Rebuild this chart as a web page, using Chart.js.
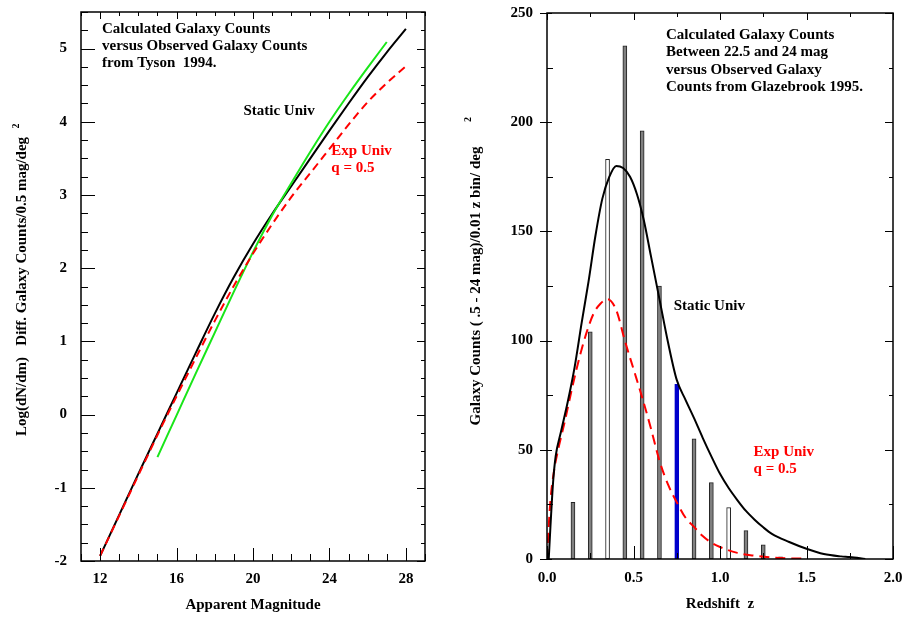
<!DOCTYPE html>
<html>
<head>
<meta charset="utf-8">
<script src="https://cdn.jsdelivr.net/npm/chart.js@4.4.1/dist/chart.umd.min.js"></script>
<style>
  html, body { margin: 0; padding: 0; background: #fff; }
  #wrap { position: relative; width: 904px; height: 618px; overflow: hidden; background: #fff; }
  .panel { position: absolute; top: 0; width: 452px; height: 618px; }
  #left { left: 0; }
  #right { left: 452px; }
</style>
</head>
<body>
<div id="wrap">
  <div class="panel" id="left"><canvas id="chart-mag"></canvas></div>
  <div class="panel" id="right"><canvas id="chart-z"></canvas></div>
</div>
<script>
// left panel - log differential counts vs apparent magnitude
const MAGS = [12, 13, 14, 15, 16, 17, 18, 19, 20, 21, 22, 23, 24, 25, 26, 27, 28];
const STATIC_LOG = [-1.93, -1.37, -0.81, -0.26, 0.29, 0.84, 1.38, 1.88, 2.33, 2.74, 3.12, 3.5, 3.88, 4.25, 4.61, 4.95, 5.27];
const EXP_LOG = [-1.93, -1.38, -0.83, -0.28, 0.25, 0.77, 1.28, 1.76, 2.2, 2.6, 2.97, 3.3, 3.63, 3.96, 4.27, 4.53, 4.76];
const TYSON_MAGS = [15, 16, 17, 18, 19, 20, 21, 22, 23, 24, 25, 26, 27];
const TYSON_LOG = [-0.58, -0.01, 0.56, 1.12, 1.68, 2.22, 2.72, 3.16, 3.59, 4.0, 4.38, 4.74, 5.09];
const MAG_TICKS = [12, 16, 20, 24, 28];
const LOG_TICKS = [-2, -1, 0, 1, 2, 3, 4, 5];

// right panel - counts per 0.01 z bin vs redshift
const BIN_Z = [0.15, 0.25, 0.35, 0.45, 0.55, 0.65, 0.75, 0.85, 0.95, 1.05, 1.15, 1.25, 1.35];
const BIN_COUNTS = [26, 104, 183, 235, 196, 125, 80, 55, 35, 23.5, 13, 6.5, 1];
const STATIC_Z = [0.01, 0.02, 0.035, 0.05, 0.08, 0.12, 0.16, 0.2, 0.24, 0.28, 0.32, 0.36, 0.4, 0.44, 0.48, 0.52, 0.56, 0.6, 0.65, 0.7, 0.75, 0.8, 0.85, 0.9, 0.95, 1.0, 1.05, 1.1, 1.15, 1.2, 1.25, 1.3, 1.4, 1.5, 1.6, 1.7, 1.75, 1.84];
const STATIC_N = [0, 15, 35, 47, 58, 72, 88, 108, 127, 148, 165, 175, 180, 179, 175, 167, 155, 139, 119, 99, 82, 73, 64.5, 55.5, 47, 39, 32.5, 27, 22, 18, 14.5, 11.5, 7.8, 4.7, 2.3, 1.2, 0.9, 0];
const EXP_Z = [0, 0.01, 0.02, 0.04, 0.067, 0.1, 0.15, 0.19, 0.23, 0.27, 0.31, 0.35, 0.4, 0.45, 0.5, 0.55, 0.6, 0.65, 0.7, 0.75, 0.8, 0.85, 0.9, 0.95, 1.0, 1.1, 1.2, 1.3, 1.4, 1.5];
const EXP_N = [0, 15, 27, 40, 51, 62, 80, 93, 104, 112.5, 117, 119, 114, 100, 87, 74, 60, 45, 34, 26, 19, 14.7, 10.5, 7.5, 5.5, 2.8, 1.5, 0.7, 0.3, 0.2];
const Z_TICKS = [0, 0.5, 1, 1.5, 2];
const N_TICKS = [0, 50, 100, 150, 200, 250];

const WHITE_BINS = [0.35, 1.05];
const BLUE_BIN = 0.75;

const FONT = '"Liberation Serif", "Times New Roman", serif';
const FONT_SIZE = 15;
Chart.defaults.font.family = FONT;
Chart.defaults.font.weight = 'bold';
Chart.defaults.font.size = FONT_SIZE;
Chart.defaults.color = '#000';

const pts = (xs, ys) => xs.map((x, i) => ({ x, y: ys[i] }));

// frame round the plot area plus inward ticks on all four sides
const frameTicks = {
  id: 'frameTicks',
  afterDatasetsDraw(chart, args, o) {
    const { ctx, chartArea: a, scales: { x, y } } = chart;
    const isMajor = (v, m) => Math.abs(v / m - Math.round(v / m)) < 1e-6;
    const steps = (s, step) => {
      const out = [];
      for (let i = Math.ceil(s.min / step - 1e-9); i * step <= s.max + 1e-9; i++) out.push(i * step);
      return out;
    };
    ctx.save();
    ctx.strokeStyle = '#000';
    ctx.lineWidth = 1;
    ctx.beginPath();
    steps(x, o.xStep).forEach(v => {
      const px = Math.round(x.getPixelForValue(v)) + 0.5;
      const k = isMajor(v, o.xMajor) ? 0 : 1;
      ctx.moveTo(px, a.bottom); ctx.lineTo(px, a.bottom - o.bottom[k]);
      ctx.moveTo(px, a.top); ctx.lineTo(px, a.top + o.top[k]);
    });
    steps(y, o.yStep).forEach(v => {
      const py = Math.round(y.getPixelForValue(v)) + 0.5;
      const k = isMajor(v, o.yMajor) ? 0 : 1;
      ctx.moveTo(a.left - (o.leftOut ? o.leftOut[k] : 0), py); ctx.lineTo(a.left + o.left[k], py);
      ctx.moveTo(a.right, py); ctx.lineTo(a.right - o.right[k], py);
    });
    ctx.stroke();
    ctx.lineWidth = 1.5;
    ctx.strokeRect(a.left, a.top, a.right - a.left, a.bottom - a.top);
    ctx.restore();
  }
};

// text notes placed in data coordinates
const notes = {
  id: 'notes',
  afterDatasetsDraw(chart, args, o) {
    const { ctx, scales: { x, y } } = chart;
    ctx.save();
    ctx.font = `bold ${FONT_SIZE}px ${FONT}`;
    ctx.textBaseline = 'middle';
    o.items.forEach(n => {
      ctx.fillStyle = n.color || '#000';
      n.lines.forEach((t, i) => ctx.fillText(t, x.getPixelForValue(n.x), y.getPixelForValue(n.y) + i * o.lineGap));
    });
    ctx.restore();
  }
};

// the little "2" (deg^2) after the rotated y title
const superscript = {
  id: 'superscript',
  afterDraw(chart, args, o) {
    const { ctx, scales: { y } } = chart;
    const t = y.options.title;
    ctx.save();
    ctx.font = `bold ${FONT_SIZE}px ${FONT}`;
    const w = ctx.measureText(t.text).width;
    const cx = y.left + FONT_SIZE * 1.2 / 2 + t.padding.top;
    const end = (y.top + y.bottom) / 2 - w / 2;
    ctx.translate(cx + o.dx, end + o.dy);
    ctx.rotate(-Math.PI / 2);
    ctx.font = `bold 10px ${FONT}`;
    ctx.textAlign = 'center';
    ctx.textBaseline = 'middle';
    ctx.fillText('2', 0, 0);
    ctx.restore();
  }
};

// fixed axis boxes, no extra label padding pushed into the plot area
const fixX = h => s => { s.height = h; s.paddingLeft = 0; s.paddingRight = 0; };
const fixY = w => s => { s.width = w; s.paddingTop = 0; s.paddingBottom = 0; };

const axisBase = {
  grid: { display: false, drawTicks: false },
  border: { display: false }
};

new Chart(document.getElementById('chart-mag'), {
  type: 'line',
  data: {
    datasets: [
      { label: 'Exp Univ', data: pts(MAGS, EXP_LOG), borderColor: '#ff0000', borderDash: [8, 5], borderWidth: 2, pointRadius: 0, cubicInterpolationMode: 'monotone' },
      { label: 'Tyson 1994', data: pts(TYSON_MAGS, TYSON_LOG), borderColor: '#19e619', borderWidth: 2, pointRadius: 0, cubicInterpolationMode: 'monotone' },
      { label: 'Static Univ', data: pts(MAGS, STATIC_LOG), borderColor: '#000', borderWidth: 2, pointRadius: 0, cubicInterpolationMode: 'monotone' }
    ]
  },
  options: {
    responsive: true, maintainAspectRatio: false, animation: false,
    layout: { padding: { top: 12, right: 27, left: 0, bottom: 0 } },
    plugins: {
      legend: { display: false },
      tooltip: { enabled: false },
      superscript: { dx: -6, dy: -11 },
      frameTicks: { xStep: 1, xMajor: 4, yStep: 0.25, yMajor: 1, bottom: [13, 7], top: [7, 4], left: [14, 7], right: [8, 4] },
      notes: {
        lineGap: 17,
        items: [
          { x: 12.1, y: 5.26, lines: ['Calculated Galaxy Counts', 'versus Observed Galaxy Counts', 'from Tyson  1994.'] },
          { x: 19.5, y: 4.14, lines: ['Static Univ'] },
          { x: 24.1, y: 3.6, color: '#ff0000', lines: ['Exp Univ', 'q = 0.5'] }
        ]
      }
    },
    scales: {
      x: {
        ...axisBase, type: 'linear', min: 11, max: 29,
        afterFit: fixX(57),
        afterBuildTicks: s => { s.ticks = MAG_TICKS.map(value => ({ value })); },
        ticks: { padding: 9, maxRotation: 0 },
        title: { display: true, text: 'Apparent Magnitude', padding: { top: 0, bottom: 4 } }
      },
      y: {
        ...axisBase, type: 'linear', min: -2, max: 5.5,
        afterFit: fixY(81),
        afterBuildTicks: s => { s.ticks = LOG_TICKS.map(value => ({ value })); },
        ticks: { padding: 14 },
        title: { display: true, text: 'Log(dN/dm)   Diff. Galaxy Counts/0.5 mag/deg', padding: { top: 13, bottom: 0 } }
      }
    }
  },
  plugins: [frameTicks, notes, superscript]
});

new Chart(document.getElementById('chart-z'), {
  type: 'bar',
  data: {
    datasets: [
      {
        type: 'line', label: 'Static Univ', data: pts(STATIC_Z, STATIC_N), order: 1,
        borderColor: '#000', borderWidth: 2, pointRadius: 0, cubicInterpolationMode: 'monotone'
      },
      {
        type: 'line', label: 'Exp Univ', data: pts(EXP_Z, EXP_N), order: 1,
        borderColor: '#ff0000', borderDash: [10, 6], borderWidth: 2, pointRadius: 0, cubicInterpolationMode: 'monotone'
      },
      {
        label: 'Glazebrook 1995', data: pts(BIN_Z, BIN_COUNTS), order: 2,
        barThickness: 4, borderWidth: 1, borderSkipped: false,
        backgroundColor: BIN_Z.map(z => z === BLUE_BIN ? '#0000cc' : WHITE_BINS.includes(z) ? '#ffffff' : '#808080'),
        borderColor: BIN_Z.map(z => z === BLUE_BIN ? '#0000cc' : '#222')
      }
    ]
  },
  options: {
    responsive: true, maintainAspectRatio: false, animation: false,
    layout: { padding: { top: 13, right: 11, left: 0, bottom: 0 } },
    plugins: {
      legend: { display: false },
      tooltip: { enabled: false },
      superscript: { dx: -8, dy: -27 },
      frameTicks: { xStep: 0.25, xMajor: 0.5, yStep: 25, yMajor: 50, bottom: [13, 6], top: [7, 4], left: [5, 6], leftOut: [7, 0], right: [8, 4] },
      notes: {
        lineGap: 17.4,
        items: [
          { x: 0.688, y: 240, lines: ['Calculated Galaxy Counts', 'Between 22.5 and 24 mag', 'versus Observed Galaxy', 'Counts from Glazebrook 1995.'] },
          { x: 0.732, y: 116, lines: ['Static Univ'] },
          { x: 1.194, y: 49, color: '#ff0000', lines: ['Exp Univ', 'q = 0.5'] }
        ]
      }
    },
    scales: {
      x: {
        ...axisBase, type: 'linear', min: 0, max: 2, offset: false,
        afterFit: fixX(59),
        afterBuildTicks: s => { s.ticks = Z_TICKS.map(value => ({ value })); },
        ticks: { padding: 10, maxRotation: 0, callback: v => Number(v).toFixed(1) },
        title: { display: true, text: 'Redshift  z', padding: { top: 0, bottom: 5 } }
      },
      y: {
        ...axisBase, type: 'linear', min: 0, max: 250,
        afterFit: fixY(95),
        afterBuildTicks: s => { s.ticks = N_TICKS.map(value => ({ value })); },
        ticks: { padding: 14 },
        title: { display: true, text: 'Galaxy Counts ( .5 - 24 mag)/0.01 z bin/ deg', padding: { top: 15, bottom: 0 } }
      }
    }
  },
  plugins: [frameTicks, notes, superscript]
});
</script>
</body>
</html>
